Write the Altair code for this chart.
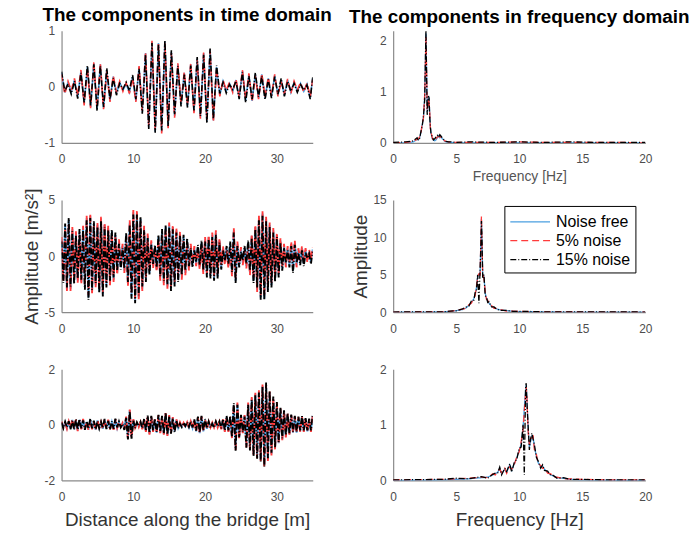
import altair as alt
import pandas as pd

FONT = "Liberation Sans"
SERIES = ["Noise free", "5% noise", "15% noise"]
COLORS = ["#4a9fe0", "#ff3b3b", "#000000"]
DASHES = [[1, 0], [7, 4], [6, 2, 1, 2]]

# ---------------- time domain, component 1 (sample positions along bridge, m)
x_t1 = [round(0.45 * i, 2) for i in range(78)] + [35.0]
t1_free = [0.25, -0.10, 0.08, -0.10, 0.12, -0.18, 0.28, -0.30, 0.35, -0.36,
           0.42, -0.40, 0.40, -0.38, 0.30, -0.25, 0.18, -0.12, 0.08, -0.06,
           0.05, -0.10, 0.18, -0.25, 0.35, -0.45, 0.60, -0.72, 0.80, -0.80,
           0.78, -0.80, 0.80, -0.72, 0.62, -0.52, 0.40, -0.32, 0.25, -0.35,
           0.40, -0.45, 0.50, -0.55, 0.60, -0.62, 0.66, -0.60, 0.35, -0.15,
           0.10, -0.08, 0.06, -0.08, 0.12, -0.20, 0.28, -0.25, 0.22, -0.25,
           0.22, -0.20, 0.22, -0.20, 0.15, -0.18, 0.20, -0.15, 0.12, -0.15,
           0.12, -0.10, 0.08, -0.08, 0.06, -0.08, 0.05, -0.20, 0.15]
t1_n5 = [0.22, -0.13, 0.10, -0.07, 0.15, -0.16, 0.30, -0.33, 0.33, -0.38,
         0.44, -0.37, 0.42, -0.40, 0.28, -0.27, 0.20, -0.10, 0.10, -0.08,
         0.07, -0.12, 0.16, -0.27, 0.37, -0.43, 0.62, -0.70, 0.82, -0.78,
         0.80, -0.83, 0.78, -0.74, 0.60, -0.55, 0.42, -0.30, 0.27, -0.33,
         0.42, -0.47, 0.48, -0.57, 0.62, -0.60, 0.64, -0.63, 0.33, -0.17,
         0.12, -0.06, 0.08, -0.10, 0.14, -0.18, 0.30, -0.23, 0.24, -0.27,
         0.20, -0.22, 0.24, -0.18, 0.17, -0.16, 0.22, -0.17, 0.10, -0.13,
         0.14, -0.12, 0.10, -0.06, 0.08, -0.10, 0.07, -0.18, 0.13]
t1_n15 = [0.27, -0.08, 0.05, -0.13, 0.10, -0.21, 0.25, -0.28, 0.38, -0.33,
          0.40, -0.43, 0.37, -0.36, 0.33, -0.22, 0.15, -0.15, 0.06, -0.04,
          0.08, -0.07, 0.21, -0.22, 0.32, -0.48, 0.57, -0.75, 0.78, -0.82,
          0.75, -0.78, 0.83, -0.70, 0.65, -0.49, 0.37, -0.35, 0.22, -0.37,
          0.38, -0.42, 0.53, -0.52, 0.57, -0.65, 0.68, -0.57, 0.38, -0.12,
          0.08, -0.11, 0.04, -0.05, 0.10, -0.22, 0.26, -0.28, 0.19, -0.22,
          0.25, -0.18, 0.19, -0.23, 0.13, -0.20, 0.18, -0.13, 0.15, -0.17,
          0.10, -0.08, 0.06, -0.10, 0.04, -0.06, 0.03, -0.22, 0.17]

# ---------------- time domain, component 2
x_t2 = [0.25 * i for i in range(141)]
t2_free = [1.5, -2.0, 2.7, -3.0, 3.2, -2.9, 2.4, -2.3, 2.0, -2.2,
           2.1, -2.3, 2.5, -2.8, 3.4, -3.7, 3.6, -3.2, 2.9, -2.6,
           2.8, -3.1, 3.3, -3.4, 2.8, -2.6, 2.5, -2.4, 2.2, -2.1,
           1.9, -1.5, 1.3, -1.0, 0.9, -1.3, 1.9, -2.5, 3.0, -3.6,
           3.9, -4.0, 3.9, -3.7, 3.3, -2.9, 2.5, -2.1, 1.8, -1.5,
           1.2, -0.9, 0.8, -1.2, 1.7, -2.0, 2.2, -2.4, 2.6, -2.7,
           2.8, -2.9, 2.6, -2.5, 2.3, -2.1, 2.0, -1.9, 1.7, -1.5,
           1.4, -1.1, 0.9, -0.8, 0.7, -0.7, 0.8, -1.0, 1.2, -1.4,
           1.5, -1.7, 1.7, -1.8, 1.9, -2.0, 2.1, -1.8, 1.4, -1.0,
           0.7, -0.6, 0.7, -0.9, 1.1, -1.6, 2.3, -2.2, 1.1, -0.8,
           0.6, -0.6, 0.7, -0.9, 1.2, -1.5, 1.8, -2.2, 2.6, -3.0,
           3.4, -3.7, 3.8, -3.8, 3.3, -3.0, 2.8, -2.6, 2.3, -2.1,
           1.9, -1.7, 1.4, -1.1, 0.9, -0.8, 0.7, -0.8, 1.1, -1.3,
           1.2, -0.8, 0.5, -0.6, 0.7, -0.7, 0.5, -0.4, 0.4, -0.5,
           0.6]
t2_n5 = [1.7, -2.2, 2.5, -3.1, 3.0, -3.1, 2.6, -2.1, 2.2, -2.4,
         1.9, -2.5, 2.7, -2.6, 3.6, -3.5, 3.8, -3.3, 2.7, -2.8,
         3.0, -2.9, 3.5, -3.2, 3.0, -2.4, 2.7, -2.6, 2.0, -2.3,
         1.7, -1.7, 1.5, -0.8, 1.1, -1.5, 1.7, -2.7, 3.2, -3.4,
         4.1, -3.8, 4.1, -3.9, 3.1, -3.1, 2.7, -1.9, 2.0, -1.3,
         1.4, -1.1, 0.6, -1.4, 1.5, -2.2, 2.0, -2.6, 2.4, -2.9,
         3.0, -2.7, 2.8, -2.3, 2.5, -1.9, 2.2, -2.1, 1.5, -1.7,
         1.2, -1.3, 1.1, -0.6, 0.9, -0.9, 0.6, -1.2, 1.0, -1.6,
         1.7, -1.5, 1.9, -1.6, 2.1, -1.8, 2.3, -1.6, 1.6, -0.8,
         0.9, -0.8, 0.5, -1.1, 0.9, -1.8, 2.5, -2.0, 1.3, -0.6,
         0.8, -0.8, 0.5, -1.1, 1.0, -1.7, 2.0, -2.0, 2.8, -3.2,
         3.6, -3.5, 4.0, -3.6, 3.5, -2.8, 3.0, -2.4, 2.5, -1.9,
         2.1, -1.5, 1.6, -0.9, 1.1, -1.0, 0.9, -0.6, 1.3, -1.1,
         1.4, -1.0, 0.7, -0.4, 0.9, -0.5, 0.7, -0.6, 0.6, -0.3,
         0.8]
t2_n15 = [1.3, -2.4, 2.9, -2.8, 3.4, -2.7, 2.2, -2.5, 1.8, -2.0,
          2.4, -2.1, 2.3, -3.0, 3.2, -3.9, 3.4, -3.0, 3.1, -2.4,
          2.6, -3.3, 3.1, -3.6, 2.6, -2.8, 2.3, -2.2, 2.4, -1.9,
          2.1, -1.3, 1.1, -1.2, 0.7, -1.1, 2.1, -2.3, 2.8, -3.8,
          3.7, -4.2, 3.7, -3.5, 3.5, -2.7, 2.3, -2.3, 1.6, -1.7,
          1.0, -0.7, 1.0, -1.0, 1.9, -1.8, 2.4, -2.2, 2.8, -2.5,
          2.6, -3.1, 2.4, -2.7, 2.1, -2.3, 1.8, -1.7, 1.9, -1.3,
          1.6, -0.9, 0.7, -1.0, 0.5, -0.5, 1.0, -0.8, 1.4, -1.2,
          1.3, -1.9, 1.5, -2.0, 1.7, -2.2, 1.9, -2.0, 1.2, -1.2,
          0.5, -0.4, 0.9, -0.7, 1.3, -1.4, 2.1, -2.4, 0.9, -1.0,
          0.4, -0.4, 0.9, -0.7, 1.4, -1.3, 1.6, -2.4, 2.4, -2.8,
          3.2, -3.9, 3.6, -3.9, 3.1, -3.2, 2.6, -2.8, 2.1, -2.3,
          1.7, -1.9, 1.2, -1.3, 0.7, -0.6, 0.5, -1.0, 0.9, -1.5,
          1.0, -0.6, 0.3, -0.8, 0.5, -0.9, 0.3, -0.2, 0.2, -0.7,
          0.4]

# ---------------- time domain, component 3
x_t3 = [0.25 * i for i in range(141)]
t3_free = [0.10, -0.08, 0.09, -0.12, 0.10, -0.14, 0.18, -0.15, 0.17, -0.20,
           0.18, -0.14, 0.19, -0.15, 0.10, -0.17, 0.19, -0.14, 0.12, -0.18,
           0.16, -0.10, 0.08, -0.14, 0.18, -0.12, 0.17, -0.14, 0.10, -0.16,
           0.18, -0.12, 0.09, -0.05, 0.05, -0.14, 0.28, -0.48, 0.52, -0.42,
           0.18, -0.08, 0.05, -0.06, 0.08, -0.14, 0.18, -0.23, 0.28, -0.32,
           0.28, -0.23, 0.18, -0.28, 0.32, -0.28, 0.28, -0.33, 0.40, -0.38,
           0.33, -0.28, 0.26, -0.23, 0.18, -0.10, 0.07, -0.05, 0.05, -0.06,
           0.07, -0.09, 0.10, -0.11, 0.17, -0.23, 0.26, -0.30, 0.28, -0.23,
           0.18, -0.14, 0.09, -0.07, 0.06, -0.07, 0.09, -0.07, 0.09, -0.14,
           0.18, -0.23, 0.28, -0.23, 0.28, -0.47, 0.70, -0.85, 0.75, -0.47,
           0.32, -0.28, 0.33, -0.75, 0.76, -0.85, 0.95, -1.05, 1.10, -1.15,
           1.20, -1.25, 1.40, -1.45, 1.38, -1.25, 1.15, -1.05, 0.95, -0.85,
           0.76, -0.66, 0.57, -0.52, 0.47, -0.42, 0.38, -0.33, 0.33, -0.28,
           0.28, -0.28, 0.26, -0.23, 0.28, -0.23, 0.20, -0.23, 0.18, -0.23,
           0.32]
t3_n5 = [0.12, -0.10, 0.07, -0.14, 0.12, -0.12, 0.21, -0.13, 0.19, -0.22,
         0.16, -0.16, 0.21, -0.13, 0.12, -0.19, 0.17, -0.16, 0.10, -0.20,
         0.18, -0.08, 0.10, -0.16, 0.20, -0.10, 0.19, -0.16, 0.08, -0.18,
         0.20, -0.10, 0.11, -0.07, 0.07, -0.16, 0.30, -0.50, 0.55, -0.45,
         0.20, -0.10, 0.07, -0.08, 0.10, -0.16, 0.20, -0.25, 0.30, -0.35,
         0.30, -0.25, 0.20, -0.30, 0.35, -0.30, 0.30, -0.35, 0.42, -0.40,
         0.35, -0.30, 0.28, -0.25, 0.20, -0.12, 0.09, -0.07, 0.07, -0.08,
         0.09, -0.11, 0.12, -0.13, 0.19, -0.25, 0.28, -0.32, 0.30, -0.25,
         0.20, -0.16, 0.11, -0.09, 0.08, -0.09, 0.11, -0.09, 0.11, -0.16,
         0.20, -0.25, 0.30, -0.25, 0.30, -0.50, 0.74, -0.90, 0.80, -0.50,
         0.35, -0.30, 0.35, -0.80, 0.80, -0.90, 1.00, -1.10, 1.15, -1.20,
         1.25, -1.30, 1.45, -1.52, 1.45, -1.30, 1.20, -1.10, 1.00, -0.90,
         0.80, -0.70, 0.60, -0.55, 0.50, -0.45, 0.40, -0.35, 0.35, -0.30,
         0.30, -0.30, 0.28, -0.25, 0.30, -0.25, 0.22, -0.25, 0.20, -0.25,
         0.35]
t3_n15 = [0.08, -0.12, 0.11, -0.09, 0.13, -0.16, 0.15, -0.18, 0.21, -0.17,
          0.21, -0.12, 0.16, -0.18, 0.13, -0.14, 0.22, -0.12, 0.15, -0.16,
          0.13, -0.13, 0.11, -0.12, 0.21, -0.15, 0.14, -0.17, 0.13, -0.14,
          0.22, -0.09, 0.12, -0.09, 0.03, -0.18, 0.25, -0.52, 0.48, -0.50,
          0.15, -0.12, 0.09, -0.04, 0.11, -0.12, 0.22, -0.21, 0.33, -0.29,
          0.32, -0.20, 0.22, -0.25, 0.36, -0.25, 0.32, -0.30, 0.44, -0.35,
          0.30, -0.32, 0.23, -0.27, 0.16, -0.13, 0.04, -0.08, 0.08, -0.04,
          0.10, -0.07, 0.13, -0.09, 0.20, -0.21, 0.30, -0.27, 0.32, -0.20,
          0.21, -0.12, 0.12, -0.10, 0.04, -0.10, 0.12, -0.05, 0.12, -0.12,
          0.21, -0.20, 0.32, -0.20, 0.32, -0.44, 0.78, -0.93, 0.72, -0.44,
          0.36, -0.25, 0.30, -0.82, 0.72, -0.92, 0.90, -1.12, 1.06, -1.22,
          1.16, -1.32, 1.36, -1.50, 1.52, -1.20, 1.22, -1.00, 1.02, -0.80,
          0.82, -0.62, 0.62, -0.48, 0.52, -0.38, 0.42, -0.30, 0.37, -0.24,
          0.32, -0.25, 0.30, -0.20, 0.32, -0.20, 0.24, -0.20, 0.22, -0.20,
          0.37]

# ---------------- frequency domain, component 1 (Hz)
f1 = [0, 1.0, 1.6, 1.8, 1.9, 2.0, 2.1, 2.2, 2.3, 2.4,
      2.5, 2.55, 2.6, 2.65, 2.7, 2.75, 2.8, 2.85, 2.9, 2.95,
      3.0, 3.1, 3.2, 3.3, 3.4, 3.5, 3.6, 3.7, 3.8, 3.9,
      4.0, 4.1, 4.2, 4.4, 4.6, 5.0, 6, 8, 10, 12,
      14, 16, 18, 20]
s1_free = [0, 0, 0.02, 0.05, 0.08, 0.06, 0.10, 0.20, 0.35, 0.50,
           0.90, 1.50, 2.15, 1.40, 0.60, 0.75, 0.90, 0.85, 0.55, 0.30,
           0.20, 0.08, 0.05, 0.04, 0.06, 0.10, 0.14, 0.10, 0.12, 0.08,
           0.06, 0.03, 0.02, 0.01, 0.01, 0, 0, 0, 0, 0,
           0, 0, 0, 0]
s1_n5 = [0, 0.01, 0.03, 0.06, 0.07, 0.08, 0.12, 0.18, 0.38, 0.48,
         0.95, 1.45, 2.10, 1.45, 0.65, 0.70, 0.88, 0.80, 0.60, 0.28,
         0.22, 0.10, 0.04, 0.06, 0.08, 0.12, 0.12, 0.13, 0.10, 0.09,
         0.05, 0.04, 0.03, 0.02, 0.01, 0.01, 0.01, 0.01, 0.02, 0.01,
         0.01, 0.01, 0.01, 0]
s1_n15 = [0.01, 0.02, 0.04, 0.08, 0.10, 0.05, 0.09, 0.22, 0.32, 0.52,
          0.85, 1.55, 2.20, 1.35, 0.55, 0.80, 0.92, 0.88, 0.50, 0.33,
          0.18, 0.12, 0.06, 0.08, 0.12, 0.15, 0.11, 0.16, 0.13, 0.10,
          0.07, 0.05, 0.03, 0.02, 0.02, 0.01, 0.02, 0.01, 0.02, 0.01,
          0.02, 0.01, 0.01, 0.01]

# ---------------- frequency domain, component 2
f2 = [0, 3, 4, 4.5, 5, 5.5, 5.8, 6.0, 6.2, 6.4,
      6.5, 6.6, 6.7, 6.8, 6.9, 6.95, 7.0, 7.05, 7.1, 7.2,
      7.3, 7.4, 7.5, 7.6, 7.8, 8.0, 8.2, 8.5, 9, 9.5,
      10, 12, 15, 20]
s2_free = [0, 0.02, 0.05, 0.1, 0.2, 0.35, 0.6, 0.9, 1.3, 1.8,
           2.4, 3.2, 4.8, 4.9, 5.5, 9.0, 12.5, 9.0, 5.0, 4.8,
           2.5, 1.9, 1.5, 1.2, 0.8, 0.6, 0.45, 0.3, 0.2, 0.12,
           0.08, 0.03, 0.01, 0]
s2_n5 = [0.01, 0.03, 0.07, 0.12, 0.25, 0.4, 0.55, 1.0, 1.2, 1.9,
         2.2, 3.4, 4.6, 5.1, 5.0, 9.5, 12.8, 8.5, 5.3, 4.5,
         2.8, 1.7, 1.6, 1.1, 0.9, 0.5, 0.5, 0.35, 0.15, 0.15,
         0.1, 0.04, 0.02, 0.01]
s2_n15 = [0.02, 0.05, 0.04, 0.15, 0.18, 0.45, 0.7, 0.8, 1.5, 1.6,
          2.6, 2.9, 5.0, 1.2, 6.0, 8.5, 12.2, 9.5, 4.6, 5.0,
          2.2, 2.0, 1.3, 1.4, 0.7, 0.7, 0.4, 0.25, 0.25, 0.1,
          0.12, 0.05, 0.03, 0.02]

# ---------------- frequency domain, component 3
f3 = [0, 4, 5, 6, 7, 7.5, 7.9, 8.1, 8.3, 8.45,
      8.6, 8.85, 9.0, 9.25, 9.4, 9.6, 9.8, 10.0, 10.15, 10.3,
      10.4, 10.5, 10.55, 10.6, 10.7, 10.8, 10.9, 11.0, 11.1, 11.2,
      11.35, 11.5, 11.7, 11.85, 12.0, 12.25, 12.5, 12.7, 13.0, 13.5,
      14, 15, 17, 20]
s3_free = [0, 0.01, 0.02, 0.03, 0.05, 0.06, 0.10, 0.12, 0.15, 0.22,
           0.12, 0.20, 0.15, 0.28, 0.18, 0.30, 0.40, 0.55, 0.65, 0.95,
           1.30, 1.60, 1.72, 1.50, 0.95, 0.60, 0.70, 0.80, 0.78, 0.60,
           0.45, 0.32, 0.25, 0.26, 0.20, 0.15, 0.10, 0.08, 0.05, 0.04,
           0.02, 0.01, 0.005, 0]
s3_n5 = [0.01, 0.02, 0.03, 0.04, 0.06, 0.05, 0.12, 0.10, 0.17, 0.20,
         0.14, 0.22, 0.13, 0.25, 0.20, 0.28, 0.42, 0.52, 0.70, 0.90,
         1.25, 1.55, 1.68, 1.55, 0.90, 0.65, 0.72, 0.78, 0.80, 0.55,
         0.48, 0.30, 0.27, 0.22, 0.22, 0.13, 0.12, 0.06, 0.06, 0.03,
         0.03, 0.02, 0.01, 0.01]
s3_n15 = [0.01, 0.02, 0.04, 0.03, 0.07, 0.04, 0.11, 0.13, 0.14, 0.24,
          0.10, 0.22, 0.16, 0.30, 0.15, 0.32, 0.38, 0.58, 0.60, 1.00,
          0.10, 1.65, 1.75, 1.45, 1.00, 0.55, 0.75, 0.85, 0.74, 0.65,
          0.42, 0.35, 0.22, 0.28, 0.18, 0.17, 0.09, 0.09, 0.04, 0.05,
          0.02, 0.02, 0.01, 0.01]


def long_df(xs, ys_list):
    rows = []
    for s, ys in zip(SERIES, ys_list):
        for xv, yv in zip(xs, ys):
            rows.append({"x": xv, "y": yv, "series": s})
    return pd.DataFrame(rows)


LEGEND = alt.Legend(
    title=None, orient="none", legendX=112, legendY=6,
    symbolType="M-1,0H3", symbolSize=400, symbolStrokeWidth=1.3,
    labelFont=FONT, labelFontSize=16, labelColor="black", labelOffset=25,
    strokeColor="black", fillColor="white", padding=5, rowPadding=0,
)

LABEL_EXPR = "datum.value < 0 ? '-' + abs(datum.value) : '' + datum.value"


def panel(df, width, height, xdom, ydom, xticks, yticks, line_w,
          xaxis_extra=None, yaxis_extra=None, title=None, title_offset=0, legend=False):
    xa = dict(values=xticks, title=None, labelExpr=LABEL_EXPR)
    if xaxis_extra:
        xa.update(xaxis_extra)
    ya = dict(values=yticks, title=None, labelExpr=LABEL_EXPR)
    if yaxis_extra:
        ya.update(yaxis_extra)
    layers = []
    for s in SERIES:
        col_kw = dict(scale=alt.Scale(domain=SERIES, range=COLORS))
        dash_kw = dict(scale=alt.Scale(domain=SERIES, range=DASHES))
        if legend:
            col_kw["legend"] = LEGEND
            dash_kw["legend"] = LEGEND
        else:
            col_kw["legend"] = None
            dash_kw["legend"] = None
        layers.append(
            alt.Chart(df)
            .transform_filter(alt.datum.series == s)
            .mark_line(strokeWidth=line_w, clip=True)
            .encode(
                x=alt.X("x:Q", scale=alt.Scale(domain=xdom, nice=False, zero=False), axis=alt.Axis(**xa)),
                y=alt.Y("y:Q", scale=alt.Scale(domain=ydom, nice=False, zero=False), axis=alt.Axis(**ya)),
                color=alt.Color("series:N", **col_kw),
                strokeDash=alt.StrokeDash("series:N", **dash_kw),
            )
        )
    props = dict(width=width, height=height)
    if title:
        props["title"] = alt.TitleParams(title, font=FONT, fontSize=19, fontWeight="bold",
                                         color="black", offset=title_offset, anchor="middle",
                                         frame="group")
    return alt.layer(*layers).properties(**props)


p1 = panel(long_df(x_t1, [t1_free, t1_n5, t1_n15]), 253, 113, [0, 35], [-1, 1],
           [0, 10, 20, 30], [-1, 0, 1], 1.6,
           title="The components in time domain", title_offset=0)
p2 = panel(long_df(f1, [s1_free, s1_n5, s1_n15]), 254, 113, [0, 20], [0, 2.2],
           [0, 5, 10, 15, 20], [0, 1, 2], 1.3,
           xaxis_extra=dict(title="Frequency [Hz]", titleFontSize=14, titleColor="#555555", titlePadding=5),
           title="The components in frequency domain", title_offset=4)
p3 = panel(long_df(x_t2, [t2_free, t2_n5, t2_n15]), 253, 113, [0, 35], [-5, 5],
           [0, 10, 20, 30], [-5, 0, 5], 1.9,
           yaxis_extra=dict(title="Amplitude [m/s²]"))
p4 = panel(long_df(f2, [s2_free, s2_n5, s2_n15]), 254, 113, [0, 20], [0, 15],
           [0, 5, 10, 15, 20], [0, 5, 10, 15], 1.3,
           yaxis_extra=dict(title="Amplitude"), legend=True)
p5 = panel(long_df(x_t3, [t3_free, t3_n5, t3_n15]), 253, 112, [0, 35], [-2, 2],
           [0, 10, 20, 30], [-2, 0, 2], 1.9,
           xaxis_extra=dict(title="Distance along the bridge [m]", titlePadding=8))
p6 = panel(long_df(f3, [s3_free, s3_n5, s3_n15]), 254, 112, [0, 20], [0, 2],
           [0, 5, 10, 15, 20], [0, 1, 2], 1.3,
           xaxis_extra=dict(title="Frequency [Hz]", titlePadding=8))

chart = (
    alt.concat(p1, p2, p3, p4, p5, p6, columns=2,
               spacing={"row": 57.5, "column": 81}, bounds="flush",
               padding={"left": 22, "top": 4, "right": 4, "bottom": 4})
    .resolve_scale(x="independent", y="independent", color="independent", strokeDash="independent")
    .resolve_legend(color="independent", strokeDash="independent")
    .configure_axis(labelFont=FONT, labelFontSize=12, labelColor="#4d4d4d",
                    domainColor="#8a8a8a", domainWidth=1.2, ticks=False, tickSize=0,
                    grid=False, titleFont=FONT, titleFontSize=19, titleFontWeight="normal",
                    titleColor="#333333", labelFlush=False, labelPadding=11)
    .configure_axisY(labelPadding=7, titlePadding=3)
    .configure_view(stroke=None)
)

chart.save("out.html", embed_options={"renderer": "svg", "actions": False})
